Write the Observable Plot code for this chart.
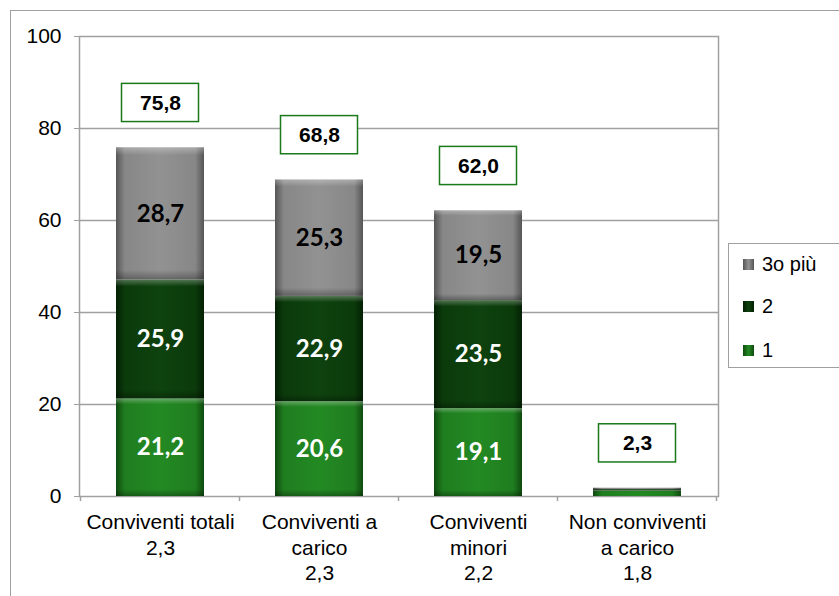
<!DOCTYPE html>
<html>
<head>
<meta charset="utf-8">
<script src="https://cdn.jsdelivr.net/npm/d3@7"></script>
<script src="https://cdn.jsdelivr.net/npm/@observablehq/plot@0.6"></script>
<style>
  html, body { margin: 0; padding: 0; background: #fff; overflow: hidden; }
  #wrap { position: relative; width: 839px; height: 596px; font-family: "Liberation Sans", Arial, sans-serif; }
  #border { position: absolute; left: 10px; top: 10px; width: 900px; height: 700px; border-left: 1.5px solid #a0a0a0; border-top: 1.5px solid #a0a0a0; box-sizing: border-box; }
  #chart { position: absolute; left: 0; top: 0; }
  #legend { position: absolute; left: 728px; top: 243px; width: 200px; height: 125px; border: 1.5px solid #a0a0a0; background: #fff; box-sizing: border-box; }
  .item { position: absolute; left: 14px; height: 24px; display: flex; align-items: center; font-size: 20px; color: #000; }
  .sw { width: 11px; height: 11px; margin-right: 8px; }
</style>
</head>
<body>
<div id="wrap">
  <div id="border"></div>
  <div id="chart"></div>
  <div id="legend"></div>
</div>
<script>
// ---- data ----
const categories = ["Conviventi totali", "Conviventi a carico", "Conviventi minori", "Non conviventi a carico"];
const categoryLabels = ["Conviventi totali\n2,3", "Conviventi a\ncarico\n2,3", "Conviventi\nminori\n2,2", "Non conviventi\na carico\n1,8"];
const seriesNames = ["1", "2", "3o più"];
const values1 = [21.2, 20.6, 19.1, 1.2];
const values2 = [25.9, 22.9, 23.5, 0.3];
const values3 = [28.7, 25.3, 19.5, 0.3];
const totalLabels = [75.8, 68.8, 62.0, 2.3];
const yTicks = [0, 20, 40, 60, 80, 100];

// ---- build tables ----
const seriesValues = [values1, values2, values3];
const rows = [];
categories.forEach((c, i) => {
  seriesNames.forEach((s, j) => rows.push({cat: c, series: s, value: seriesValues[j][i]}));
});
const totalRows = categories.map((c, i) => ({
  cat: c,
  top: values1[i] + values2[i] + values3[i],
  label: totalLabels[i]
}));
const fmt = v => v.toFixed(1).replace(".", ",");
const labelOf = new Map(categories.map((c, i) => [c, categoryLabels[i]]));

const gradId = {"1": "g1", "2": "g2", "3o più": "g3"};
const gradStops = {
  g1: ["#0f4a0f", "#1f7d1f", "#238a23", "#1f7d1f", "#0f4a0f"],
  g2: ["#042004", "#0b3a0b", "#0e420e", "#0b3a0b", "#042004"],
  g3: ["#555555", "#878787", "#929292", "#878787", "#555555"]
};
const textColor = {"1": "#ffffff", "2": "#ffffff", "3o più": "#000000"};

const chart = Plot.plot({
  width: 839,
  height: 596,
  marginLeft: 79,
  marginRight: 121,
  marginTop: 36,
  marginBottom: 100,
  style: {fontFamily: "'Liberation Sans', Arial, sans-serif", fontSize: "20px", background: "transparent"},
  x: {domain: categories, paddingInner: 0.444, paddingOuter: 0.222, axis: null},
  y: {domain: [0, 100], axis: null},
  color: {type: "identity"},
  marks: [
    Plot.gridY(yTicks.filter(t => t > 0 && t < 100), {stroke: "#a0a0a0", strokeOpacity: 1, strokeWidth: 1.5}),
    Plot.frame({stroke: "#a0a0a0", strokeWidth: 1.5}),
    Plot.axisY(yTicks, {tickSize: 5, tickPadding: 13, stroke: "#a0a0a0", fill: "#000", fontSize: 21, label: null, tickFormat: d => String(d)}),
    Plot.ruleX(categories, {x: d => d, y1: 0, y2: -1.1, dx: -80, stroke: "#a0a0a0", strokeWidth: 1.5}),
    Plot.ruleX(categories.slice(-1), {x: d => d, y1: 0, y2: -1.1, dx: 79, stroke: "#a0a0a0", strokeWidth: 1.5}),
    Plot.barY(rows, Plot.stackY({
      x: "cat", y: "value",
      fill: d => `url(#${gradId[d.series]})`
    })),
    Plot.barY(rows, Plot.stackY({
      x: "cat", y: "value",
      fill: "url(#bevel)"
    })),
    Plot.text(rows, Plot.stackY({
      x: "cat", y: "value",
      text: d => d.value >= 5 ? fmt(d.value) : "",
      fill: d => textColor[d.series],
      fontFamily: "Lato, 'Open Sans', sans-serif",
      fontWeight: "bold",
      fontSize: 24
    })),
    Plot.barY(totalRows, {
      x: "cat", y1: d => d.top + 5.6, y2: d => d.top + 13.9,
      fill: "white", stroke: "#1a7a1a", strokeWidth: 1.5, insetLeft: 5.5, insetRight: 5.5
    }),
    Plot.text(totalRows, {
      x: "cat", y: d => d.top + 9.75, text: d => fmt(d.label),
      fontWeight: "bold", fontSize: 21, fill: "#000"
    }),
    Plot.text(categories, {
      x: d => d, y: 0, text: d => labelOf.get(d),
      lineAnchor: "top", dy: 15, lineHeight: 1.2, fontSize: 21, fill: "#000"
    })
  ]
});

// gradients for the bevelled look
const ns = "http://www.w3.org/2000/svg";
const defs = document.createElementNS(ns, "defs");
function addGrad(id, vertical, stops) {
  const g = document.createElementNS(ns, "linearGradient");
  g.setAttribute("id", id);
  g.setAttribute("x1", "0"); g.setAttribute("y1", "0");
  g.setAttribute("x2", vertical ? "0" : "1"); g.setAttribute("y2", vertical ? "1" : "0");
  stops.forEach(([o, c, a]) => {
    const s = document.createElementNS(ns, "stop");
    s.setAttribute("offset", o);
    s.setAttribute("stop-color", c);
    s.setAttribute("stop-opacity", a);
    g.appendChild(s);
  });
  defs.appendChild(g);
}
for (const [id, stops] of Object.entries(gradStops)) {
  const offs = [0, 0.1, 0.5, 0.9, 1];
  addGrad(id, false, stops.map((c, k) => [offs[k], c, 1]));
}
addGrad("bevel", true, [[0, "#ffffff", 0.3], [0.06, "#ffffff", 0], [0.93, "#000000", 0], [1, "#000000", 0.3]]);
chart.insertBefore(defs, chart.firstChild);
document.getElementById("chart").appendChild(chart);

// legend (top to bottom: 3o più, 2, 1)
const legend = document.getElementById("legend");
const legendOrder = seriesNames.slice().reverse();
const rowTops = [8, 50, 94];
legendOrder.forEach((s, k) => {
  const item = document.createElement("div");
  item.className = "item";
  item.style.top = rowTops[k] + "px";
  const st = gradStops[gradId[s]];
  item.innerHTML = `<div class="sw" style="background: linear-gradient(to right, ${st[0]}, ${st[2]}, ${st[4]})"></div><span>${s}</span>`;
  legend.appendChild(item);
});
</script>
</body>
</html>
